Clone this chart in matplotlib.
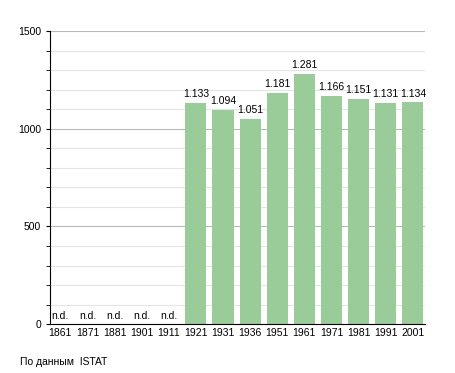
import matplotlib
matplotlib.use("Agg")
import matplotlib.pyplot as plt
from matplotlib.ticker import MultipleLocator

plt.rcParams["font.family"] = ["Liberation Sans", "DejaVu Sans"]

years = ["1861", "1871", "1881", "1901", "1911", "1921", "1931", "1936",
         "1951", "1961", "1971", "1981", "1991", "2001"]
population = [None, None, None, None, None, 1133, 1094, 1051,
              1181, 1281, 1166, 1151, 1131, 1134]

fig = plt.figure(figsize=(4.55, 3.73), dpi=100)
ax = fig.add_axes([0.11, 0.131, 0.824, 0.786])

fs = 7.5
x = list(range(len(years)))
for i, v in enumerate(population):
    if v is None:
        ax.text(i, 18, "n.d.", ha="center", va="bottom", fontsize=fs)
    else:
        ax.bar(i, v, width=0.78, color="#99cc99", zorder=2)
        ax.text(i, v + 20, f"{v/1000:.3f}", ha="center", va="bottom", fontsize=fs)

ax.set_xlim(-0.38, 13.45)
ax.set_ylim(0, 1500)
ax.set_xticks(x)
ax.set_xticklabels(years, fontsize=fs)
ax.tick_params(axis="x", length=0, pad=3)
ax.yaxis.set_major_locator(MultipleLocator(500))
ax.yaxis.set_minor_locator(MultipleLocator(100))
ax.tick_params(axis="y", which="both", length=3, labelsize=fs, direction="out")
ax.grid(axis="y", which="major", color="#b8b8b8", linewidth=0.8, zorder=0)
ax.grid(axis="y", which="minor", color="#e4e4e4", linewidth=0.8, zorder=0)
ax.set_axisbelow(True)
for s in ["top", "right"]:
    ax.spines[s].set_visible(False)

fig.text(20 / 455, 1 - 362 / 373, "По данным  ISTAT", fontsize=fs, va="center")

fig.savefig("out.png", dpi=100)
